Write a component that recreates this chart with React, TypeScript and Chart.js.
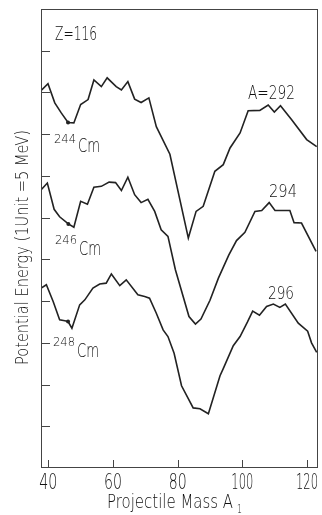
import React, { useEffect, useRef } from "react";
import { Chart, registerables } from "chart.js";

Chart.register(...registerables);

// Projectile mass A1 (x) and potential energy in units (1 unit = 5 MeV) for each compound nucleus
const massA292 = [37.8, 39.9, 42.0, 44.0, 46.1, 47.9, 50.0, 52.3, 54.1, 56.4, 58.2, 61.0, 62.6, 64.6, 66.7, 68.7, 71.1, 73.4, 77.6, 83.3, 85.7, 87.9, 91.5, 94.1, 96.2, 99.3, 101.8, 105.4, 108.0, 109.9, 111.8, 115.2, 119.9, 123.0];
const energyA292 = [9.05, 9.21, 8.75, 8.51, 8.28, 8.27, 8.71, 8.83, 9.3, 9.14, 9.35, 9.14, 9.06, 9.26, 8.84, 8.76, 8.87, 8.18, 7.52, 5.51, 6.15, 6.27, 7.11, 7.27, 7.67, 8.03, 8.56, 8.57, 8.7, 8.53, 8.68, 8.35, 7.87, 7.7];

const massA294 = [37.8, 39.7, 41.8, 43.5, 46.2, 47.9, 50.0, 52.1, 54.1, 56.4, 58.8, 60.8, 62.6, 64.6, 66.7, 68.7, 70.8, 72.9, 74.9, 77.0, 79.3, 83.5, 85.5, 87.2, 90.0, 92.6, 95.8, 98.2, 100.8, 103.9, 106.0, 108.3, 110.1, 114.7, 116.0, 118.3, 122.8];
const energyA294 = [6.67, 6.83, 6.2, 6.02, 5.85, 5.77, 6.39, 6.32, 6.73, 6.75, 6.85, 6.84, 6.65, 6.97, 6.55, 6.36, 6.44, 6.15, 5.71, 5.55, 4.75, 3.63, 3.45, 3.57, 4.02, 4.55, 5.1, 5.45, 5.65, 6.15, 6.17, 6.36, 6.17, 6.17, 5.88, 5.87, 5.19];

const massA296 = [37.8, 39.4, 41.5, 43.5, 45.1, 46.1, 47.3, 49.7, 51.3, 53.8, 55.9, 57.9, 59.5, 62.1, 64.1, 67.7, 69.8, 71.3, 73.4, 75.5, 77.0, 78.9, 81.2, 84.8, 86.9, 89.5, 93.1, 94.1, 97.2, 99.3, 101.6, 103.2, 105.3, 107.5, 109.6, 111.6, 113.3, 117.3, 120.2, 121.4, 123.0];
const energyA296 = [4.31, 4.39, 3.99, 3.55, 3.53, 3.51, 3.35, 3.91, 4.03, 4.31, 4.41, 4.43, 4.65, 4.37, 4.51, 4.15, 4.11, 4.07, 3.71, 3.31, 3.15, 2.75, 1.97, 1.44, 1.42, 1.3, 2.21, 2.38, 2.93, 3.15, 3.5, 3.76, 3.66, 3.87, 3.93, 3.85, 3.93, 3.47, 3.28, 3.0, 2.77];

// Target-nucleus markers (index of the small dot on each curve)
const dotIndex292 = 4;
const dotIndex294 = 4;
const dotIndex296 = 5;

const curveLabels = ["A=292", "294", "296"];
const targetLabels = ["244", "246", "248"];
const xTickValues = [40, 60, 80, 100, 120];
const yTickValues = [1, 2, 3, 4, 5, 6, 7, 8, 9, 10];
const xTitle = "Projectile Mass A";
const xTitleSub = "1";
const yTitle = "Potential Energy (1Unit =5 MeV)";
const zLabel = "Z=116";

const INK = "#222";
const TEXT_INK = "#111";
const FONT = '"DejaVu Sans", sans-serif';
const WEIGHT = 200;

function fitText(ctx: CanvasRenderingContext2D, text: string, x: number, baseline: number, size: number, width: number) {
  ctx.save();
  ctx.font = `${WEIGHT} ${size}px ${FONT}`;
  const w = ctx.measureText(text).width || 1;
  ctx.translate(x, baseline);
  ctx.scale(width / w, 1);
  ctx.textAlign = "left";
  ctx.textBaseline = "alphabetic";
  ctx.fillStyle = TEXT_INK;
  ctx.fillText(text, 0, 0);
  ctx.restore();
}

const decorPlugin = {
  id: "decor",
  afterDraw(chart: any) {
    const ctx: CanvasRenderingContext2D = chart.ctx;
    const { left, right, top, bottom } = chart.chartArea;
    const xs = chart.scales.x;
    const ys = chart.scales.y;
    ctx.save();
    // frame
    ctx.strokeStyle = "#444";
    ctx.lineWidth = 1;
    ctx.strokeRect(left + 0.5, top + 0.5, right - left - 1, bottom - top - 1);
    // inner ticks
    ctx.beginPath();
    yTickValues.forEach((v) => {
      const py = Math.round(ys.getPixelForValue(v)) + 0.5;
      ctx.moveTo(left, py);
      ctx.lineTo(left + 9, py);
    });
    xTickValues.forEach((v) => {
      const px = Math.round(xs.getPixelForValue(v)) + 0.5;
      ctx.moveTo(px, bottom);
      ctx.lineTo(px, bottom - 8);
    });
    ctx.stroke();
    // x tick labels
    xTickValues.forEach((v) => {
      const t = String(v);
      const w = t.length === 2 ? 18 : 22;
      const px = xs.getPixelForValue(v);
      fitText(ctx, t, px - w / 2, 489, 22, w);
    });
    // axis titles
    fitText(ctx, xTitle, 107, 508, 19.5, 126);
    fitText(ctx, xTitleSub, 237, 513, 13, 5);
    ctx.save();
    ctx.translate(28, 247.5);
    ctx.rotate(-Math.PI / 2);
    fitText(ctx, yTitle, -117.5, 0, 18, 235);
    ctx.restore();
    // annotations
    fitText(ctx, zLabel, 55, 40, 19.5, 42);
    fitText(ctx, curveLabels[0], 248, 99, 19.5, 47);
    fitText(ctx, curveLabels[1], 269, 197, 18.5, 28);
    fitText(ctx, curveLabels[2], 268, 299, 18.5, 26);
    const cm = [
      [54, 143, 152],
      [55, 244, 255],
      [53, 346, 357],
    ];
    cm.forEach(([x, b1, b2], i) => {
      fitText(ctx, targetLabels[i], x, b1, 13, 22);
      fitText(ctx, "Cm", x + 24, b2, 19, 22);
    });
    ctx.restore();
  },
};

function makeSeries(xs: number[], ys: number[], dot: number) {
  return {
    data: xs.map((x, i) => ({ x, y: ys[i] })),
    borderColor: INK,
    backgroundColor: INK,
    borderWidth: 1.6,
    pointRadius: xs.map((_, i) => (i === dot ? 2 : 0)),
    pointBorderWidth: 0,
    tension: 0,
    fill: false,
  };
}

export default function App() {
  const ref = useRef<HTMLCanvasElement | null>(null);
  useEffect(() => {
    if (!ref.current) return;
    const chart = new Chart(ref.current, {
      type: "line",
      data: {
        datasets: [
          makeSeries(massA292, energyA292, dotIndex292),
          makeSeries(massA294, energyA294, dotIndex294),
          makeSeries(massA296, energyA296, dotIndex296),
        ] as any,
      },
      options: {
        animation: false,
        responsive: false,
        devicePixelRatio: 1,
        layout: { padding: { left: 41, top: 9, right: 4, bottom: 47 } },
        plugins: { legend: { display: false }, tooltip: { enabled: false } },
        scales: {
          x: { type: "linear", min: 37.74, max: 123.4, display: false },
          y: { type: "linear", min: 0, max: 11, display: false },
        },
      },
      plugins: [decorPlugin],
    });
    return () => chart.destroy();
  }, []);
  return (
    <div style={{ position: "fixed", left: 0, top: 0, width: 322, height: 515, background: "#fff" }}>
      <canvas ref={ref} width={322} height={515} />
    </div>
  );
}
